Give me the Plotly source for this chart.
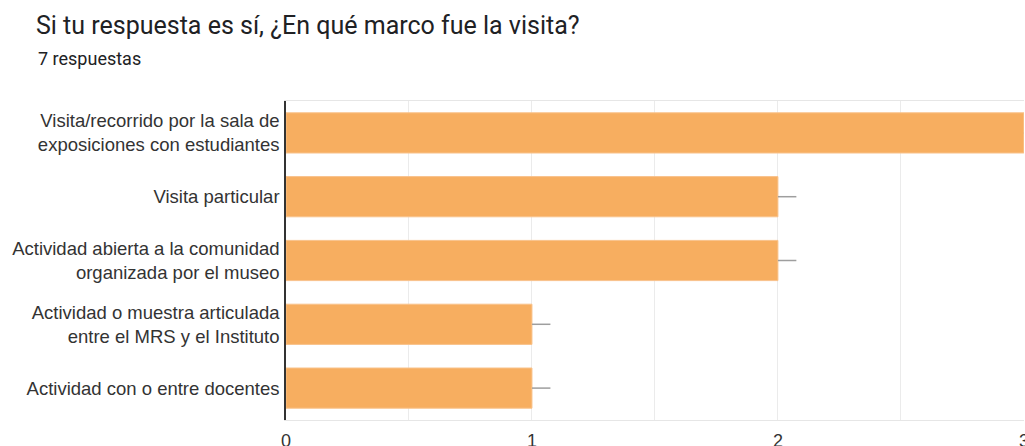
import plotly.graph_objects as go

title = "Si tu respuesta es sí, ¿En qué marco fue la visita?"
subtitle = "7 respuestas"
categories = [
    "Visita/recorrido por la sala de<br>exposiciones con estudiantes",
    "Visita particular",
    "Actividad abierta a la comunidad<br>organizada por el museo",
    "Actividad o muestra articulada<br>entre el MRS y el Instituto",
    "Actividad con o entre docentes",
]
values = [3, 2, 2, 1, 1]
x_ticks = [0, 1, 2, 3]

W, H = 1025, 446
L, R, T, B = 286, 1, 101, 26
pw, ph = W - L - R, H - T - B

leader = 0.075  # short grey leader line after each bar end (axis units)

fig = go.Figure()
fig.add_trace(go.Bar(
    y=categories,
    x=values,
    orientation="h",
    width=0.63,
    marker=dict(color="#F7AE60", line=dict(color="#F9C28A", width=1)),
    error_x=dict(type="data", symmetric=False,
                 array=[leader] * len(values), arrayminus=[0] * len(values),
                 color="#9E9E9E", thickness=1.5, width=0),
    hoverinfo="skip",
))

fig.update_layout(
    width=W, height=H,
    margin=dict(l=L, r=R, t=T, b=B, pad=0, autoexpand=False),
    paper_bgcolor="white",
    plot_bgcolor="white",
    showlegend=False,
    font=dict(family="Arial, Liberation Sans, sans-serif", size=18, color="#333333"),
    xaxis=dict(
        range=[0, 3.0005],
        tickvals=x_ticks,
        ticktext=[str(v) for v in x_ticks],
        showgrid=True, gridcolor="#EBEBEB", gridwidth=1,
        minor=dict(dtick=0.5, showgrid=True, gridcolor="#EBEBEB", gridwidth=1),
        zeroline=False,
        showline=True, linecolor="#E6E6E6", linewidth=1, mirror=True,
        ticks="outside", ticklen=4, tickcolor="rgba(0,0,0,0)",
        tickfont=dict(size=18, color="#333333"),
        ticklabeloverflow="allow",
        automargin=False,
        fixedrange=True,
    ),
    yaxis=dict(
        autorange="reversed",
        showgrid=False, zeroline=False,
        showline=True, linecolor="#333333", linewidth=1.5,
        ticks="outside", ticklen=1, tickcolor="rgba(0,0,0,0)",
        tickfont=dict(size=18.5, color="#333333"),
        automargin=False,
        fixedrange=True,
    ),
    annotations=[
        dict(text=title, xref="paper", yref="paper",
             x=(34 - L) / pw, y=(H - B - 25) / ph,
             xanchor="left", yanchor="middle", showarrow=False,
             font=dict(family="Roboto, sans-serif", size=25, color="#202124")),
        dict(text=subtitle, xref="paper", yref="paper",
             x=(36 - L) / pw, y=(H - B - 59) / ph,
             xanchor="left", yanchor="middle", showarrow=False,
             font=dict(family="Roboto, sans-serif", size=18, color="#202124")),
    ],
)

fig.write_html("out.html")
